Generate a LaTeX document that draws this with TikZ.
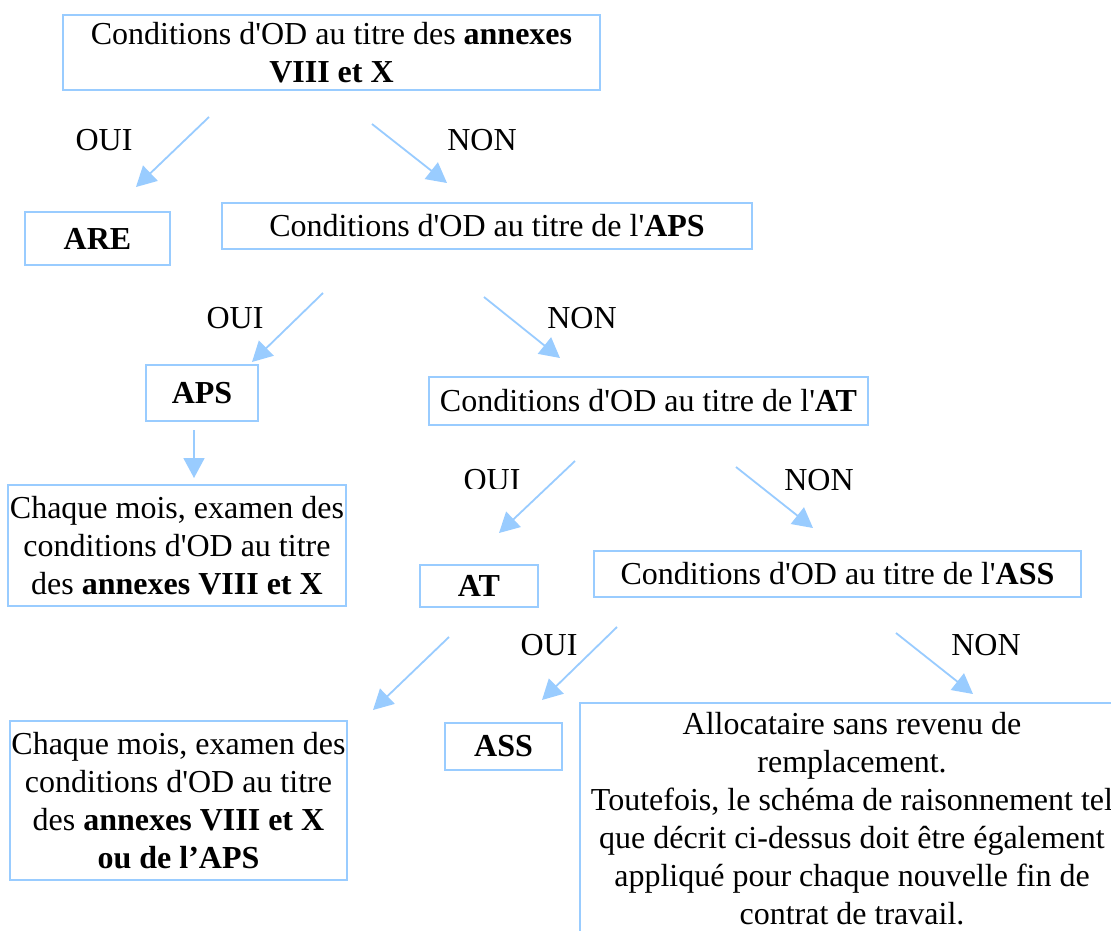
\documentclass[tikz,border=0pt]{standalone}
\usepackage{fontspec}
\setmainfont{Liberation Serif}[Ligatures=TeXOff]
\usetikzlibrary{arrows.meta}
\definecolor{lb}{RGB}{153,204,255}
\begin{document}
\begin{tikzpicture}[x=1pt,y=-1pt,
 box/.style={draw=lb, line width=1.5pt, align=center, inner sep=0pt, font=\fontsize{32}{38}\selectfont},
 lbl/.style={inner sep=0pt, font=\fontsize{32}{38}\selectfont},
 arr/.style={draw=lb, line width=1.8pt, -{Triangle[length=20pt,width=21pt]}}]
\clip (0,0) rectangle (1111,930);
\fill[white] (0,0) rectangle (1111,930);

\node[box, minimum width=537pt, minimum height=75pt] (q1) at (331.5,52.5) {Conditions d'OD au titre des \textbf{annexes}\\\textbf{VIII et X}};
\node[box, minimum width=145pt, minimum height=53pt] (are) at (97.5,238.5) {\textbf{ARE}};
\node[box, minimum width=530pt, minimum height=46pt] (q2) at (487,226) {Conditions d'OD au titre de l'\textbf{APS}};
\node[box, minimum width=112pt, minimum height=56pt] (aps) at (202,393) {\textbf{APS}};
\node[box, minimum width=338pt, minimum height=121pt] (c1) at (177,545.5) {Chaque mois, examen des\\conditions d'OD au titre\\des \textbf{annexes VIII et X}};
\node[box, minimum width=439pt, minimum height=48pt] (q3) at (648.5,401) {Conditions d'OD au titre de l'\textbf{AT}};
\node[box, minimum width=118pt, minimum height=42pt] (at) at (479,586) {\textbf{AT}};
\node[box, minimum width=487pt, minimum height=46pt] (q4) at (837.5,574) {Conditions d'OD au titre de l'\textbf{ASS}};
\node[box, minimum width=337pt, minimum height=159pt] (c2) at (178.5,800.5) {Chaque mois, examen des\\conditions d'OD au titre\\des \textbf{annexes VIII et X}\\\textbf{ou de l’APS}};
\node[box, minimum width=117pt, minimum height=47pt] (ass) at (503.5,746.5) {\textbf{ASS}};
\node[box, minimum width=544pt, minimum height=231pt] (alloc) at (852,818.5) {Allocataire sans revenu de\\remplacement.\\Toutefois, le schéma de raisonnement tel\\que décrit ci-dessus doit être également\\appliqué pour chaque nouvelle fin de\\contrat de travail.};

\node[lbl] (o1) at (104,140) {OUI};
\node[lbl] (n1) at (482,140) {NON};
\node[lbl] (o2) at (235,318) {OUI};
\node[lbl] (n2) at (582,318) {NON};
\begin{scope}
\clip (440,440) rectangle (560,488);
\node[lbl] (o3) at (492,480) {OUI};
\end{scope}
\node[lbl] (n3) at (819,480) {NON};
\node[lbl] (o4) at (549,645) {OUI};
\node[lbl] (n4) at (986,645) {NON};

\coordinate (a1s) at (209,117); \coordinate (a1e) at (136,187);
\coordinate (a2s) at (372,124); \coordinate (a2e) at (447,183);
\coordinate (a3s) at (323,293); \coordinate (a3e) at (252,362);
\coordinate (a4s) at (484,297); \coordinate (a4e) at (560,358);
\coordinate (a5s) at (194,430); \coordinate (a5e) at (194,478);
\coordinate (a6s) at (575,461); \coordinate (a6e) at (499,533);
\coordinate (a7s) at (736,467); \coordinate (a7e) at (813,528);
\coordinate (a8s) at (449,637); \coordinate (a8e) at (373,710);
\coordinate (a9s) at (617,627); \coordinate (a9e) at (542,700);
\coordinate (a10s) at (896,633); \coordinate (a10e) at (973,694);
\foreach \i in {1,...,10} {\draw[arr] (a\i s) -- (a\i e);}
\end{tikzpicture}
\end{document}
